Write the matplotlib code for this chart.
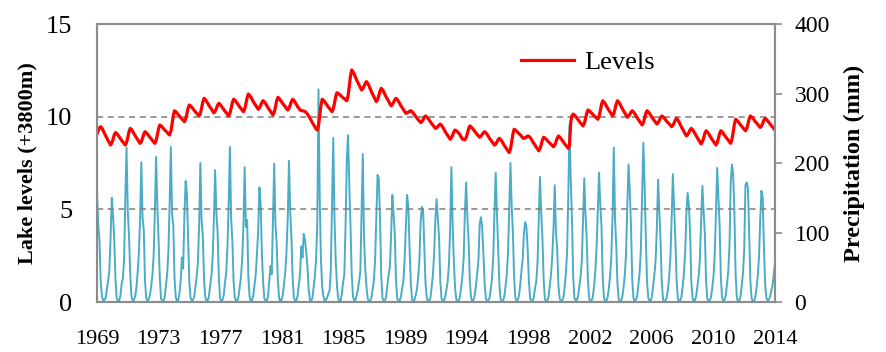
import matplotlib
matplotlib.use("Agg")
import matplotlib.pyplot as plt
import numpy as np

# monthly precipitation (mm), one row per year Jan..Dec, 1969-2014
precip_mm = [
    [157, 112, 88, 30, 8, 2, 3, 6, 18, 30, 45, 92],      # 1969
    [150, 125, 90, 32, 6, 1, 2, 9, 26, 34, 60, 150],     # 1970
    [222, 130, 96, 40, 8, 2, 3, 8, 20, 42, 70, 118],     # 1971
    [201, 122, 104, 30, 6, 1, 4, 10, 22, 38, 66, 128],   # 1972
    [209, 140, 92, 36, 5, 2, 2, 7, 24, 40, 72, 140],     # 1973
    [223, 126, 110, 34, 7, 1, 3, 12, 30, 64, 48, 122],   # 1974
    [174, 158, 96, 30, 6, 2, 3, 8, 22, 36, 58, 110],     # 1975
    [200, 118, 94, 32, 7, 1, 2, 9, 25, 38, 66, 120],     # 1976
    [190, 128, 100, 36, 5, 1, 3, 10, 28, 42, 80, 140],   # 1977
    [223, 120, 88, 30, 6, 2, 2, 8, 22, 36, 62, 110],     # 1978
    [194, 108, 118, 36, 8, 1, 3, 9, 24, 40, 70, 104],    # 1979
    [165, 140, 70, 28, 5, 2, 2, 8, 30, 52, 40, 118],     # 1980
    [199, 112, 84, 30, 6, 1, 3, 10, 26, 44, 72, 120],    # 1981
    [203, 132, 92, 34, 6, 2, 2, 9, 24, 40, 80, 64],      # 1982
    [98, 90, 72, 52, 18, 3, 2, 5, 20, 36, 60, 110],      # 1983
    [306, 150, 60, 22, 8, 2, 3, 6, 12, 16, 46, 140],     # 1984
    [236, 120, 60, 24, 6, 1, 2, 12, 28, 40, 110, 204],   # 1985
    [240, 170, 110, 40, 8, 2, 3, 10, 18, 30, 44, 128],   # 1986
    [213, 92, 48, 22, 5, 1, 2, 6, 18, 30, 60, 120],      # 1987
    [183, 178, 120, 38, 6, 1, 2, 8, 24, 40, 50, 95],     # 1988
    [154, 128, 98, 30, 5, 1, 2, 8, 20, 30, 62, 110],     # 1989
    [154, 138, 78, 28, 4, 1, 3, 10, 18, 36, 60, 115],    # 1990
    [137, 132, 80, 26, 6, 1, 2, 6, 22, 40, 70, 120],     # 1991
    [148, 120, 92, 30, 5, 1, 2, 8, 18, 30, 54, 105],     # 1992
    [194, 112, 60, 20, 4, 1, 2, 8, 22, 38, 64, 130],     # 1993
    [172, 122, 88, 30, 6, 1, 3, 10, 24, 42, 60, 112],    # 1994
    [122, 108, 70, 28, 5, 1, 2, 6, 18, 34, 64, 128],     # 1995
    [186, 130, 80, 26, 4, 1, 2, 8, 22, 40, 70, 132],     # 1996
    [200, 138, 100, 34, 6, 2, 3, 10, 26, 46, 62, 100],   # 1997
    [115, 108, 76, 30, 5, 1, 2, 7, 20, 30, 56, 120],     # 1998
    [180, 130, 92, 32, 4, 1, 2, 8, 24, 40, 66, 106],     # 1999
    [168, 100, 76, 24, 5, 1, 2, 6, 20, 40, 70, 150],     # 2000
    [255, 178, 118, 36, 6, 2, 3, 9, 22, 36, 58, 120],    # 2001
    [178, 126, 90, 30, 5, 1, 2, 8, 24, 44, 80, 130],     # 2002
    [186, 140, 110, 34, 6, 1, 2, 7, 20, 38, 66, 124],    # 2003
    [222, 120, 80, 26, 4, 1, 2, 8, 22, 40, 72, 140],     # 2004
    [198, 160, 108, 32, 5, 1, 3, 9, 26, 42, 76, 150],    # 2005
    [229, 170, 96, 30, 6, 2, 2, 8, 24, 40, 60, 108],     # 2006
    [176, 130, 88, 28, 4, 1, 2, 6, 18, 36, 64, 120],     # 2007
    [184, 136, 92, 32, 5, 1, 2, 8, 22, 42, 70, 128],     # 2008
    [157, 140, 100, 30, 6, 1, 3, 9, 24, 38, 62, 118],    # 2009
    [167, 130, 98, 30, 5, 1, 2, 7, 20, 36, 66, 126],     # 2010
    [193, 150, 110, 36, 6, 2, 3, 10, 26, 44, 80, 170],   # 2011
    [198, 184, 130, 40, 6, 1, 2, 8, 24, 42, 76, 168],    # 2012
    [172, 164, 100, 30, 5, 1, 2, 7, 20, 38, 64, 120],    # 2013
    [160, 150, 80, 26, 6, 2, 3, 8, 16, 24, 40, 56],      # 2014
]

# monthly lake level (m above 3800), one row per year Jan..Dec
levels_m = [
    [9.07, 9.25, 9.40, 9.46, 9.38, 9.26, 9.11, 8.97, 8.85, 8.72, 8.59, 8.47],
    [8.57, 8.77, 9.01, 9.14, 9.09, 9.01, 8.91, 8.81, 8.72, 8.64, 8.55, 8.47],
    [8.61, 8.88, 9.19, 9.37, 9.31, 9.21, 9.09, 8.97, 8.87, 8.76, 8.66, 8.56],
    [8.65, 8.84, 9.06, 9.19, 9.14, 9.06, 8.97, 8.88, 8.80, 8.72, 8.64, 8.56],
    [8.71, 9.01, 9.35, 9.55, 9.51, 9.44, 9.36, 9.28, 9.22, 9.15, 9.07, 9.01],
    [9.21, 9.60, 10.06, 10.32, 10.27, 10.20, 10.11, 10.03, 9.95, 9.88, 9.80, 9.73],
    [9.87, 10.14, 10.45, 10.63, 10.58, 10.51, 10.42, 10.34, 10.26, 10.19, 10.11, 10.04],
    [10.18, 10.47, 10.80, 10.99, 10.93, 10.83, 10.72, 10.60, 10.51, 10.41, 10.30, 10.21],
    [10.29, 10.44, 10.62, 10.72, 10.67, 10.58, 10.48, 10.38, 10.30, 10.21, 10.12, 10.04],
    [10.18, 10.45, 10.76, 10.94, 10.89, 10.81, 10.71, 10.61, 10.52, 10.44, 10.35, 10.27],
    [10.41, 10.70, 11.03, 11.22, 11.15, 11.06, 10.93, 10.81, 10.71, 10.61, 10.50, 10.40],
    [10.47, 10.61, 10.77, 10.86, 10.80, 10.71, 10.59, 10.48, 10.38, 10.28, 10.18, 10.09],
    [10.23, 10.52, 10.85, 11.04, 10.99, 10.90, 10.80, 10.70, 10.62, 10.53, 10.44, 10.36],
    [10.45, 10.62, 10.82, 10.94, 10.88, 10.78, 10.66, 10.55, 10.45, 10.36, 10.33, 10.32],
    [10.30, 10.28, 10.22, 10.14, 10.04, 9.92, 9.80, 9.68, 9.56, 9.45, 9.35, 9.28],
    [9.53, 10.03, 10.61, 10.94, 10.89, 10.81, 10.71, 10.61, 10.52, 10.44, 10.35, 10.27],
    [10.42, 10.73, 11.09, 11.29, 11.26, 11.20, 11.14, 11.08, 11.02, 10.97, 10.91, 10.86],
    [11.11, 11.61, 12.19, 12.52, 12.43, 12.30, 12.14, 11.98, 11.85, 11.71, 11.57, 11.44],
    [11.51, 11.64, 11.80, 11.89, 11.80, 11.67, 11.51, 11.35, 11.22, 11.08, 10.94, 10.81],
    [10.92, 11.13, 11.39, 11.53, 11.45, 11.34, 11.20, 11.06, 10.95, 10.83, 10.70, 10.59],
    [10.65, 10.77, 10.91, 10.99, 10.93, 10.83, 10.71, 10.59, 10.49, 10.38, 10.28, 10.18],
    [10.20, 10.24, 10.29, 10.32, 10.27, 10.19, 10.10, 10.00, 9.92, 9.84, 9.76, 9.68],
    [9.73, 9.84, 9.97, 10.04, 9.99, 9.91, 9.81, 9.71, 9.62, 9.54, 9.45, 9.37],
    [9.40, 9.47, 9.55, 9.60, 9.53, 9.44, 9.31, 9.19, 9.09, 8.99, 8.88, 8.78],
    [8.86, 9.01, 9.18, 9.28, 9.24, 9.18, 9.11, 9.03, 8.90, 8.80, 8.76, 8.76],
    [8.87, 9.09, 9.35, 9.50, 9.45, 9.38, 9.29, 9.20, 9.12, 9.04, 8.96, 8.89],
    [8.94, 9.03, 9.13, 9.19, 9.13, 9.05, 8.94, 8.83, 8.74, 8.65, 8.56, 8.47],
    [8.52, 8.63, 8.76, 8.83, 8.77, 8.68, 8.56, 8.45, 8.35, 8.25, 8.15, 8.06],
    [8.25, 8.63, 9.07, 9.32, 9.28, 9.22, 9.15, 9.08, 9.02, 8.95, 8.85, 8.83],
    [8.86, 8.91, 8.96, 8.94, 8.88, 8.78, 8.66, 8.56, 8.46, 8.36, 8.26, 8.16],
    [8.27, 8.49, 8.74, 8.89, 8.85, 8.79, 8.71, 8.64, 8.57, 8.51, 8.44, 8.38],
    [8.47, 8.64, 8.84, 8.96, 8.91, 8.83, 8.73, 8.63, 8.54, 8.46, 8.37, 8.29],
    [8.45, 9.70, 10.05, 10.14, 10.09, 10.01, 9.92, 9.82, 9.74, 9.66, 9.58, 9.50],
    [9.63, 9.89, 10.19, 10.36, 10.32, 10.26, 10.19, 10.11, 10.05, 9.99, 9.92, 9.86],
    [10.01, 10.31, 10.66, 10.86, 10.79, 10.70, 10.57, 10.45, 10.35, 10.25, 10.14, 10.04],
    [10.16, 10.41, 10.70, 10.86, 10.79, 10.68, 10.55, 10.42, 10.31, 10.19, 10.08, 9.97],
    [10.02, 10.13, 10.25, 10.32, 10.26, 10.17, 10.05, 9.94, 9.84, 9.74, 9.64, 9.55],
    [9.67, 9.90, 10.17, 10.32, 10.26, 10.18, 10.07, 9.96, 9.87, 9.78, 9.69, 9.60],
    [9.67, 9.80, 9.95, 10.04, 9.99, 9.92, 9.84, 9.75, 9.68, 9.61, 9.53, 9.46],
    [9.53, 9.66, 9.82, 9.91, 9.83, 9.72, 9.58, 9.44, 9.32, 9.20, 9.07, 8.96],
    [9.02, 9.14, 9.29, 9.37, 9.30, 9.20, 9.08, 8.95, 8.85, 8.74, 8.63, 8.53],
    [8.64, 8.85, 9.10, 9.24, 9.18, 9.09, 8.97, 8.86, 8.76, 8.66, 8.56, 8.47],
    [8.59, 8.82, 9.09, 9.24, 9.19, 9.10, 9.00, 8.90, 8.82, 8.73, 8.64, 8.56],
    [8.76, 9.15, 9.60, 9.86, 9.81, 9.74, 9.64, 9.55, 9.48, 9.40, 9.31, 9.24],
    [9.36, 9.60, 9.88, 10.04, 9.99, 9.92, 9.82, 9.73, 9.66, 9.58, 9.49, 9.42],
    [9.49, 9.64, 9.81, 9.91, 9.86, 9.78, 9.69, 9.60, 9.52, 9.44, 9.36, 9.28],
]

year_labels = ["1969", "1973", "1977", "1981", "1985", "1989",
               "1994", "1998", "2002", "2006", "2010", "2014"]

prec = np.array(precip_mm, dtype=float).ravel()
lev = np.array(levels_m, dtype=float).ravel()
months = np.arange(len(prec))

plt.rcParams["font.family"] = "Liberation Serif"

fig = plt.figure(figsize=(8.86, 3.52), dpi=100)
ax = fig.add_axes([0.1095, 0.142, 0.7652, 0.7898])
ax2 = ax.twinx()

ax2.plot(months, prec, color="#4BACC6", lw=1.4)
ax.plot(months, lev, color="#FF0000", lw=2.3, label="Levels")

# levels on top of the precipitation
ax.set_zorder(ax2.get_zorder() + 1)
ax.patch.set_visible(False)

ax.set_xlim(0, len(prec) - 1)
ax.set_ylim(0, 15)
ax2.set_ylim(0, 400)
ax.set_yticks([0, 5, 10, 15])
ax2.set_yticks([0, 100, 200, 300, 400])
ax.set_xticks(np.linspace(0, len(prec) - 1, len(year_labels)))
ax.set_xticklabels(year_labels)

for a in (ax, ax2):
    for s in a.spines.values():
        s.set_color("#8c8c8c")
        s.set_linewidth(1.5)

ax.yaxis.grid(True, linestyle=(0, (4, 3)), color="#7f7f7f", lw=1.1)
ax.tick_params(axis="x", length=0, pad=20, labelsize=16)
ax.tick_params(axis="y", length=0, pad=18, labelsize=19)
ax2.tick_params(axis="y", length=5, width=1.2, color="#8c8c8c", pad=9, labelsize=17)

ax.set_ylabel("Lake levels (+3800m)", fontsize=16, fontweight="bold", labelpad=6)
ax2.set_ylabel("Precipitation (mm)", fontsize=17.5, fontweight="bold", labelpad=10)

ax.legend(loc="upper left", bbox_to_anchor=(0.59, 0.99), frameon=False,
          fontsize=19, handlelength=2.0, handletextpad=0.4)

fig.savefig("out.png", dpi=100)
